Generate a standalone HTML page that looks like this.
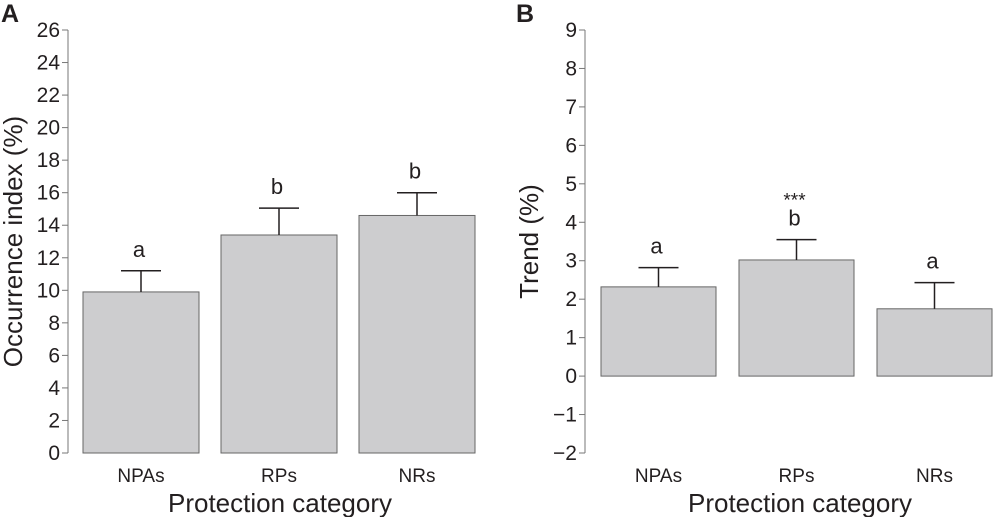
<!DOCTYPE html>
<html><head><meta charset="utf-8"><style>
body{margin:0;background:#fff}
svg text{font-family:"Liberation Sans",Arial,sans-serif;fill:#231f20}
</style></head><body>
<svg width="993" height="517" id="fig"></svg>
<script>
const categories=["NPAs","RPs","NRs"];
const occValues=[9.9,13.4,14.6];
const occErrors=[1.3,1.65,1.4];
const occLetters=["a","b","b"];
const occTicks=[0,2,4,6,8,10,12,14,16,18,20,22,24,26];
const trendValues=[2.32,3.02,1.75];
const trendErrors=[0.5,0.53,0.68];
const trendLetters=["a","b","a"];
const trendTicks=[-2,-1,0,1,2,3,4,5,6,7,8,9];
const NS="http://www.w3.org/2000/svg";
const svg=document.getElementById('fig');
function el(t,a,txt){const e=document.createElementNS(NS,t);for(const k in a)e.setAttribute(k,a[k]);if(txt!==undefined)e.textContent=txt;svg.appendChild(e);return e;}
function panel(o){
  const ymin=o.ticks[0],ymax=o.ticks[o.ticks.length-1];
  const y=v=>o.top+(ymax-v)/(ymax-ymin)*(o.bottom-o.top);
  const x=i=>o.x0+i*o.step;
  let e=el('text',{x:o.label[0],y:o.label[1],'font-size':25,'font-weight':'bold'},o.name);
  
  
  e=el('line',{x1:o.ax,y1:o.top,x2:o.ax,y2:o.bottom,stroke:'#777','stroke-width':1});
  
  
  o.ticks.forEach(t=>{
    let l=el('line',{x1:o.ax-6,y1:y(t),x2:o.ax,y2:y(t),stroke:'#777'});
    
    
    let tx=el('text',{x:o.ax-8,y:y(t)+7,'font-size':21,'text-anchor':'end'},t<0?'\u2212'+(-t):String(t));
    
    
  });
  const yt=(o.top+o.bottom)/2;
  e=el('text',{x:o.ytx,y:yt,'font-size':26,'text-anchor':'middle',transform:`rotate(-90 ${o.ytx} ${yt})`},o.ytitle);
  
  
  const base=y(Math.max(0,ymin));
  categories.forEach((c,i)=>{
    const cx=x(i)+o.bw/2,v=o.values[i],top=y(v),et=y(v+o.errors[i]);
    let r=el('rect',{x:x(i),y:top,width:o.bw,height:base-top,fill:'#cdcdcf',stroke:'#666','stroke-width':1});
    
    
    let l=el('line',{x1:cx,y1:top,x2:cx,y2:et,stroke:'#231f20','stroke-width':1.5});
    
    
    l=el('line',{x1:cx-20,y1:et,x2:cx+20,y2:et,stroke:'#231f20','stroke-width':1.5});
    
    
    let t=el('text',{x:cx-2,y:et-14,'font-size':22,'text-anchor':'middle'},o.letters[i]);
    
    
    if(o.stars&&o.stars[i]){t=el('text',{x:cx-2,y:et-33,'font-size':19,'text-anchor':'middle'},o.stars[i]);
      
      }
    t=el('text',{x:cx,y:482,'font-size':19,'text-anchor':'middle'},c);
    
    
  });
  e=el('text',{x:o.xtx,y:512,'font-size':26,'text-anchor':'middle'},'Protection category');
  
  
}
panel({name:'A',label:[1,22],ax:68,top:30,bottom:453,x0:83,step:138,bw:116,ticks:occTicks,values:occValues,errors:occErrors,letters:occLetters,ytitle:'Occurrence index (%)',ytx:22,xtx:280});
panel({name:'B',label:[516,22],ax:585,top:30,bottom:453,x0:601,step:138,bw:115,ticks:trendTicks,values:trendValues,errors:trendErrors,letters:trendLetters,stars:['','***',''],ytitle:'Trend (%)',ytx:538,xtx:800});
</script>
</body></html>
